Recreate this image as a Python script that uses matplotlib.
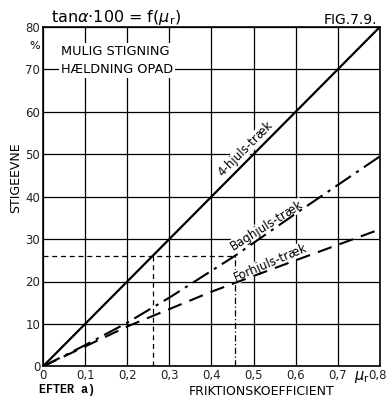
import matplotlib
matplotlib.use("Agg")
import matplotlib.pyplot as plt
import matplotlib.transforms as mtransforms

# ---- data ----
mu_4wd = [0.0, 0.8]
val_4wd = [0.0, 80.0]

mu_rwd = [0.0, 0.1, 0.2, 0.3, 0.455, 0.6, 0.8]
val_rwd = [0.0, 5.0, 10.3, 16.2, 26.0, 36.0, 49.5]

mu_fwd = [0.0, 0.2, 0.4, 0.6, 0.8]
val_fwd = [0.0, 9.4, 17.6, 25.0, 32.3]

ref_level = 26.0
ref_mu_4wd = 0.26
ref_mu_rwd = 0.455

xticks = [0, 0.1, 0.2, 0.3, 0.4, 0.5, 0.6, 0.7, 0.8]
xtick_labels = ["0", "0,1", "0,2", "0,3", "0,4", "0,5", "0,6", "0,7", "0,8"]
yticks = [0, 10, 20, 30, 40, 50, 60, 70, 80]

plt.rcParams['font.family'] = ['DejaVu Sans']

fig = plt.figure(figsize=(3.87, 4.0), dpi=100)
ax = fig.add_axes([0.111, 0.084, 0.871, 0.849])
ax.set_xlim(0, 0.8)
ax.set_ylim(0, 80)
ax.set_xticks(xticks)
ax.set_xticklabels(xtick_labels)
ax.set_yticks(yticks)
ax.grid(True, color='black', linewidth=0.9)
ax.set_axisbelow(True)
for s in ax.spines.values():
    s.set_linewidth(1.2)
ax.tick_params(length=0, labelsize=8.5, pad=2, colors='#222222')
# nudge the last x label so it stays inside the figure
last = ax.get_xticklabels()[-1]
last.set_transform(last.get_transform() + mtransforms.ScaledTranslation(-2/72, 0, fig.dpi_scale_trans))

# curves
ax.plot(mu_4wd, val_4wd, color='black', lw=1.6, solid_capstyle='butt', zorder=4)
ax.plot(mu_rwd, val_rwd, color='black', lw=1.5, dashes=(9, 3, 1.5, 3), zorder=4)
ax.plot(mu_fwd, val_fwd, color='black', lw=1.5, dashes=(7, 4), zorder=4)

# reference lines
ax.plot([0, ref_mu_rwd], [ref_level, ref_level], color='black', lw=0.9, dashes=(4, 3))
ax.plot([ref_mu_4wd, ref_mu_4wd], [0, ref_level], color='black', lw=0.9, dashes=(4, 3))
ax.plot([ref_mu_rwd, ref_mu_rwd], [0, ref_level], color='black', lw=0.9, dashes=(5, 2, 1, 2))

# curve labels (anchored on the curve, shifted perpendicular)
wbox = dict(facecolor='white', edgecolor='none', pad=0.3)
ax.annotate("4-hjuls-træk", xy=(0.497, 49.7), xytext=(-4.8, 4.8), textcoords='offset points',
            rotation=45, ha='center', va='center', fontsize=8.5, bbox=wbox, zorder=3)
ax.annotate("Baghjuls-træk", xy=(0.54, 31.9), xytext=(-2.6, 4.2), textcoords='offset points',
            rotation=32, ha='center', va='center', fontsize=8.5, bbox=wbox, zorder=3)
ax.annotate("Forhjuls-træk", xy=(0.545, 23.0), xytext=(-1.8, 4.4), textcoords='offset points',
            rotation=23, ha='center', va='center', fontsize=8.5, bbox=wbox, zorder=3)

# text block at top-left
ax.text(0.043, 72.0, "MULIG STIGNING\nHÆLDNING OPAD", ha='left', va='center',
        fontsize=9.3, linespacing=1.5,
        bbox=dict(facecolor='white', edgecolor='none', pad=1.5))

# other texts (figure coordinates)
fig.text(0.30, 0.956, r"tan$\alpha$$\cdot$100 = f($\mu_{\rm r}$)", ha='center', va='center',
         fontsize=11.5)
fig.text(0.975, 0.95, "FIG.7.9.", ha='right', va='center', fontsize=10)
fig.text(0.103, 0.885, "%", ha='right', va='center', fontsize=8)
fig.text(0.04, 0.555, "STIGEEVNE", rotation=90, ha='center', va='center', fontsize=9)
fig.text(0.10, 0.026, "EFTER a)", ha='left', va='center', fontsize=8.5,
         family='Liberation Mono', weight='bold')
fig.text(0.675, 0.022, "FRIKTIONSKOEFFICIENT", ha='center', va='center', fontsize=9)
fig.text(0.935, 0.058, r"$\mu_{\rm r}$", ha='center', va='center', fontsize=10.5)

fig.savefig("out.png", dpi=100, facecolor='white')
